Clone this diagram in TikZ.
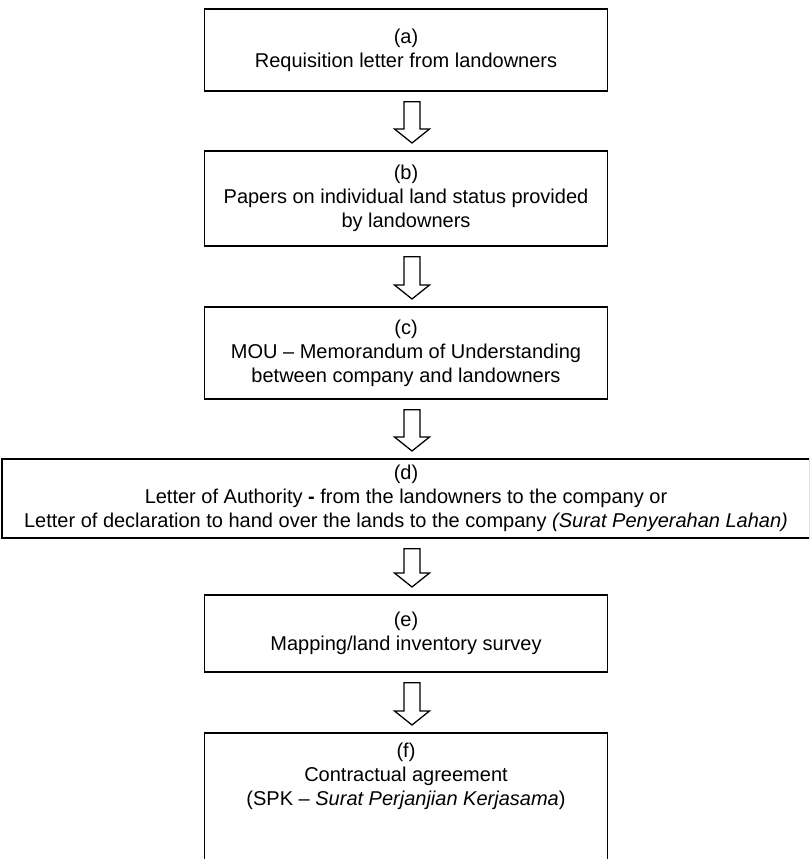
\documentclass[tikz,border=0pt]{standalone}
\usepackage{fontspec}
\setmainfont{Liberation Sans}
\usetikzlibrary{calc}
\tikzset{
  stagebox/.style={draw, line width=1.8pt, align=center, inner sep=0pt, minimum width=403pt, anchor=north, font=\fontsize{20}{24}\selectfont},
  hollowarrow/.style={draw, line width=1.3pt, fill=white, line join=miter}
}
\begin{document}
\begin{tikzpicture}[x=1pt,y=-1pt]
\useasboundingbox (0,0) rectangle (809,859);
\clip (0,0) rectangle (809,859);
\node[stagebox, minimum height=82pt] (a) at (406,8) {(a)\\Requisition letter from landowners};
\node[stagebox, minimum height=95pt] (b) at (406,150) {(b)\\Papers on individual land status provided\\by landowners};
\node[stagebox, minimum height=92pt] (c) at (406,306) {(c)\\MOU – Memorandum of Understanding\\between company and landowners};
\node[stagebox, minimum width=808pt, minimum height=79pt] (d) at (406,458) {(d)\\Letter of Authority \textbf{-} from the landowners to the company or\\Letter of declaration to hand over the lands to the company \textit{(Surat Penyerahan Lahan)}};
\node[stagebox, minimum height=77pt] (e) at (406,594) {(e)\\Mapping/land inventory survey};
\node[stagebox, inner ysep=10pt, text depth=120pt] (f) at (406,732) {(f)\\Contractual agreement\\(SPK – \textit{Surat Perjanjian Kerjasama})};
\foreach \from/\to in {a/b,b/c,c/d,d/e,e/f}
  \draw[hollowarrow] ($(\from.south)+(-2,10)$) -- ($(\to.north)+(-2,-21)$) -- ++(-9.5,0) -- ($(\to.north)+(6,-7)$) -- ++(17.5,-14) -- ++(-9.5,0) -- ($(\from.south)+(14,10)$) -- cycle;
\end{tikzpicture}
\end{document}
